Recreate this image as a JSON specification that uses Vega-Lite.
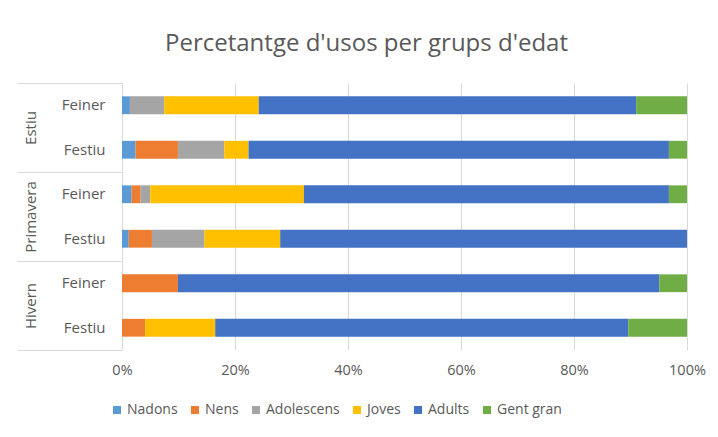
{
  "$schema": "https://vega.github.io/schema/vega-lite/v6.json",
  "width": 565,
  "height": 267,
  "autosize": {"type": "none"},
  "padding": {"left": 122, "top": 83, "right": 31, "bottom": 87},
  "title": {"text": "Percetantge d'usos per grups d'edat", "fontSize": 24, "font": "Open Sans", "fontWeight": "normal", "color": "#595959", "offset": 27, "dx": -38, "anchor": "middle"},
  "data": {"values": [
    {"season": "Estiu", "key": "Estiu|Feiner", "grup": "Nadons", "ord": 1, "v": 1.4},
    {"season": "Estiu", "key": "Estiu|Feiner", "grup": "Adolescens", "ord": 3, "v": 6.1},
    {"season": "Estiu", "key": "Estiu|Feiner", "grup": "Joves", "ord": 4, "v": 16.7},
    {"season": "Estiu", "key": "Estiu|Feiner", "grup": "Adults", "ord": 5, "v": 66.8},
    {"season": "Estiu", "key": "Estiu|Feiner", "grup": "Gent gran", "ord": 6, "v": 9.0},
    {"season": "Estiu", "key": "Estiu|Festiu", "grup": "Nadons", "ord": 1, "v": 2.4},
    {"season": "Estiu", "key": "Estiu|Festiu", "grup": "Nens", "ord": 2, "v": 7.5},
    {"season": "Estiu", "key": "Estiu|Festiu", "grup": "Adolescens", "ord": 3, "v": 8.2},
    {"season": "Estiu", "key": "Estiu|Festiu", "grup": "Joves", "ord": 4, "v": 4.3},
    {"season": "Estiu", "key": "Estiu|Festiu", "grup": "Adults", "ord": 5, "v": 74.4},
    {"season": "Estiu", "key": "Estiu|Festiu", "grup": "Gent gran", "ord": 6, "v": 3.2},
    {"season": "Primavera", "key": "Primavera|Feiner", "grup": "Nadons", "ord": 1, "v": 1.7},
    {"season": "Primavera", "key": "Primavera|Feiner", "grup": "Nens", "ord": 2, "v": 1.6},
    {"season": "Primavera", "key": "Primavera|Feiner", "grup": "Adolescens", "ord": 3, "v": 1.7},
    {"season": "Primavera", "key": "Primavera|Feiner", "grup": "Joves", "ord": 4, "v": 27.2},
    {"season": "Primavera", "key": "Primavera|Feiner", "grup": "Adults", "ord": 5, "v": 64.6},
    {"season": "Primavera", "key": "Primavera|Feiner", "grup": "Gent gran", "ord": 6, "v": 3.2},
    {"season": "Primavera", "key": "Primavera|Festiu", "grup": "Nadons", "ord": 1, "v": 1.2},
    {"season": "Primavera", "key": "Primavera|Festiu", "grup": "Nens", "ord": 2, "v": 4.1},
    {"season": "Primavera", "key": "Primavera|Festiu", "grup": "Adolescens", "ord": 3, "v": 9.3},
    {"season": "Primavera", "key": "Primavera|Festiu", "grup": "Joves", "ord": 4, "v": 13.4},
    {"season": "Primavera", "key": "Primavera|Festiu", "grup": "Adults", "ord": 5, "v": 72.0},
    {"season": "Hivern", "key": "Hivern|Feiner", "grup": "Nens", "ord": 2, "v": 9.9},
    {"season": "Hivern", "key": "Hivern|Feiner", "grup": "Adults", "ord": 5, "v": 85.2},
    {"season": "Hivern", "key": "Hivern|Feiner", "grup": "Gent gran", "ord": 6, "v": 4.9},
    {"season": "Hivern", "key": "Hivern|Festiu", "grup": "Nens", "ord": 2, "v": 4.1},
    {"season": "Hivern", "key": "Hivern|Festiu", "grup": "Joves", "ord": 4, "v": 12.4},
    {"season": "Hivern", "key": "Hivern|Festiu", "grup": "Adults", "ord": 5, "v": 73.1},
    {"season": "Hivern", "key": "Hivern|Festiu", "grup": "Gent gran", "ord": 6, "v": 10.4}
  ]},
  "layer": [
    {
      "mark": {"type": "bar"},
      "encoding": {
        "y": {"field": "key", "type": "nominal",
              "sort": ["Estiu|Feiner", "Estiu|Festiu", "Primavera|Feiner", "Primavera|Festiu", "Hivern|Feiner", "Hivern|Festiu"],
              "scale": {"paddingInner": 0.6, "paddingOuter": 0.3},
              "axis": {"title": null, "orient": "left", "labelExpr": "split(datum.label, '|')[1]", "ticks": false, "tickSize": 0, "labelPadding": 17, "domain": true, "domainColor": "#d9d9d9", "labelFontSize": 15, "labelColor": "#595959", "labelFont": "Open Sans", "grid": false}},
        "x": {"field": "v", "type": "quantitative", "stack": "zero",
              "scale": {"domain": [0, 100], "nice": false},
              "axis": {"title": null, "values": [0, 20, 40, 60, 80, 100], "labelExpr": "datum.value + '%'", "labelFlush": false, "ticks": false, "domain": false, "grid": true, "gridColor": "#d9d9d9", "labelPadding": 13, "labelFontSize": 14.5, "labelColor": "#595959", "labelFont": "Open Sans"}},
        "color": {"field": "grup", "type": "nominal",
                  "scale": {"domain": ["Nadons", "Nens", "Adolescens", "Joves", "Adults", "Gent gran"], "range": ["#5B9BD5", "#ED7D31", "#A5A5A5", "#FFC000", "#4472C4", "#70AD47"]},
                  "legend": {"orient": "none", "legendX": -12, "legendY": 320, "direction": "horizontal", "title": null, "symbolType": "square", "symbolSize": 64, "symbolStrokeWidth": 0, "labelFontSize": 14, "labelColor": "#595959", "labelFont": "Open Sans", "columnPadding": 10, "labelOffset": 3}},
        "order": {"field": "ord", "type": "quantitative"}
      }
    },
    {
      "mark": {"type": "point", "opacity": 0},
      "encoding": {
        "y": {"field": "season", "type": "nominal", "sort": ["Estiu", "Primavera", "Hivern"],
              "scale": {"paddingInner": 0, "paddingOuter": 0},
              "axis": {"title": null, "orient": "left", "offset": 0, "domain": false, "ticks": true, "tickBand": "extent", "tickSize": 105, "tickColor": "#d9d9d9", "labelAngle": -90, "labelAlign": "center", "labelBaseline": "bottom", "labelPadding": -21, "labelFontSize": 15, "labelColor": "#595959", "labelFont": "Open Sans", "grid": false}}
      }
    }
  ],
  "resolve": {"scale": {"y": "independent"}, "axis": {"y": "independent"}},
  "config": {"view": {"stroke": null}, "background": "white"}
}
